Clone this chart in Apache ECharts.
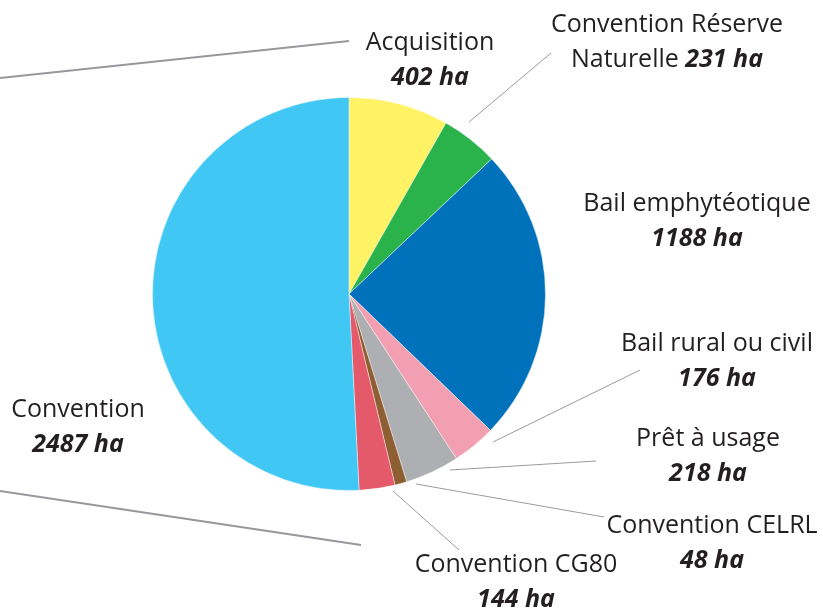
<!DOCTYPE html>
<html>
<head>
<meta charset="utf-8">
<script src="https://cdn.jsdelivr.net/npm/echarts@6/dist/echarts.min.js"></script>
<style>
html,body{margin:0;padding:0;background:#fff;}
#chart{width:823px;height:608px;}
</style>
</head>
<body>
<div id="chart"></div>
<script>
// ---- data ----
const categories = ['Acquisition', 'Convention Réserve Naturelle', 'Bail emphytéotique', 'Bail rural ou civil', 'Prêt à usage', 'Convention CELRL', 'Convention CG80', 'Convention'];
const values = [402, 231, 1188, 176, 218, 48, 144, 2487];
const unit = 'ha';

// ---- styling / layout (not data) ----
const colors = ['#FFF264', '#2AB34B', '#0072BC', '#F29FB2', '#AEAFB3', '#8E5F32', '#E55A6A', '#41C7F4'];
// label centre positions and leader line points
const labelLayouts = [
  {x: 430, y: 60, line: [[349, 41], [0, 78]], wide: true},
  {x: 667, y: 42, line: [[469, 122], [551, 53]]},
  {x: 697, y: 221, line: null},
  {x: 717, y: 361, line: [[493, 442], [640, 370]]},
  {x: 708, y: 456, line: [[450, 470], [596, 461]]},
  {x: 712, y: 543, line: [[416, 484], [604, 517]]},
  {x: 516, y: 582, line: [[393, 491], [459, 550]]},
  {x: 78, y: 427, line: [[0, 491], [361, 545]], wide: true}
];

function labelText(name, value) {
  const v = '{v|' + value + ' ' + unit + '}';
  if (name === 'Convention Réserve Naturelle') {
    return '{n|Convention Réserve}\n{n|Naturelle }' + v;
  }
  return '{n|' + name + '}\n' + v;
}

const data = categories.map((c, i) => ({
  name: c,
  value: values[i],
  itemStyle: {color: colors[i]},
  labelLine: {
    show: !!labelLayouts[i].line,
    lineStyle: labelLayouts[i].wide ? {color: '#98989c', width: 2.2} : {color: '#9a9a9a', width: 1}
  }
}));

const chart = echarts.init(document.getElementById('chart'), null, {renderer: 'canvas'});
chart.setOption({
  animation: false,
  series: [{
    type: 'pie',
    center: [349, 294],
    radius: 196.5,
    startAngle: 90,
    clockwise: true,
    avoidLabelOverlap: false,
    data: data,
    itemStyle: {borderColor: 'rgba(255,255,255,0.7)', borderWidth: 0.6},
    label: {
      show: true,
      position: 'outside',
      formatter: p => labelText(p.name, p.value),
      align: 'center',
      rich: {
        n: {fontFamily: 'Open Sans', fontSize: 25, color: '#231f20', lineHeight: 35, align: 'center'},
        v: {fontFamily: 'Open Sans', fontSize: 25, fontWeight: 'bold', fontStyle: 'italic', color: '#231f20', lineHeight: 35}
      }
    },
    labelLine: {show: true, length: 10, length2: 10},
    labelLayout: function (params) {
      const L = labelLayouts[params.dataIndex];
      const out = {x: L.x, y: L.y, align: 'center', verticalAlign: 'middle'};
      if (L.line) out.labelLinePoints = L.line;
      return out;
    }
  }]
});
</script>
</body>
</html>
